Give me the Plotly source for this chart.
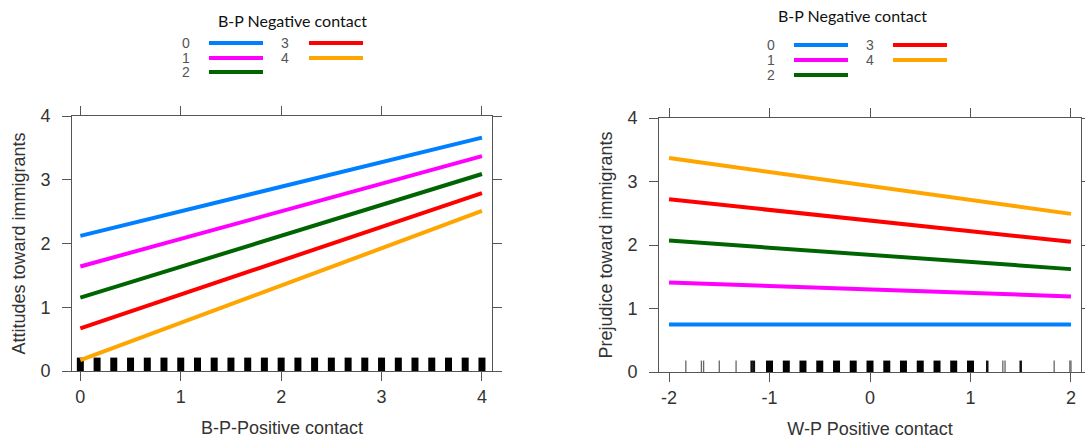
import plotly.graph_objects as go

# ---------------- data ----------------
groups = ["0", "1", "2", "3", "4"]
colors = ["#0080ff", "#ff00ff", "#006400", "#ff0000", "#ffa500"]

left_x = [0, 4]
left_y = {
    "0": [2.12, 3.66],
    "1": [1.64, 3.37],
    "2": [1.15, 3.09],
    "3": [0.67, 2.79],
    "4": [0.17, 2.51],
}
right_x = [-2, 2]
right_y = {
    "0": [0.75, 0.75],
    "1": [1.41, 1.19],
    "2": [2.07, 1.62],
    "3": [2.72, 2.05],
    "4": [3.37, 2.49],
}

left_rug = [0, 0.167, 0.333, 0.5, 0.667, 0.833, 1, 1.167, 1.333, 1.5, 1.667, 1.833,
            2, 2.167, 2.333, 2.5, 2.667, 2.833, 3, 3.167, 3.333, 3.5, 3.667, 3.833, 4]
right_rug_dense = [-1, -0.833, -0.667, -0.5, -0.333, -0.167, 0, 0.167, 0.333, 0.5,
                   0.667, 0.833, 1]
right_rug_mid = [-1.178, -1.156, 1.167, 1.5]
right_rug_sparse = [-1.833, -1.678, -1.656, -1.5, -1.333, 1.322, 1.344, 1.833, 1.989, 2.0]

left_xticks = [0, 1, 2, 3, 4]
left_xticktext = ["0", "1", "2", "3", "4"]
right_xticks = [-2, -1, 0, 1, 2]
right_xticktext = ["-2", "-1", "0", "1", "2"]
yticks = [0, 1, 2, 3, 4]

legend_title = "B-P Negative contact"
left_xtitle = "B-P-Positive contact"
left_ytitle = "Attitudes toward immigrants"
right_xtitle = "W-P Positive contact"
right_ytitle = "Prejudice toward immigrants"

W, H = 1085, 443
AX = "#555555"
TXT = "#333333"
FONT = "Liberation Sans, Arial, sans-serif"

fig = go.Figure()


def rug_trace(vals, h, width, color, xa, ya):
    xs, ys = [], []
    for v in vals:
        xs += [v, v, None]
        ys += [0, h, None]
    return go.Scatter(x=xs, y=ys, mode="lines", line=dict(color=color, width=width),
                      xaxis=xa, yaxis=ya, showlegend=False, hoverinfo="skip")


# left panel
fig.add_trace(rug_trace(left_rug, 0.21, 7, "#000000", "x", "y"))
for g, c in zip(groups, colors):
    fig.add_trace(go.Scatter(x=left_x, y=left_y[g], mode="lines",
                             line=dict(color=c, width=4), xaxis="x", yaxis="y",
                             showlegend=False, name=g))
# right panel
fig.add_trace(rug_trace(right_rug_dense, 0.18, 7, "#000000", "x2", "y2"))
fig.add_trace(rug_trace(right_rug_mid, 0.18, 2.5, "#111111", "x2", "y2"))
fig.add_trace(rug_trace(right_rug_sparse, 0.18, 1.3, "#666666", "x2", "y2"))
for g, c in zip(groups, colors):
    fig.add_trace(go.Scatter(x=right_x, y=right_y[g], mode="lines",
                             line=dict(color=c, width=4), xaxis="x2", yaxis="y2",
                             showlegend=False, name=g))


def px_x(p):
    return p / W


def px_y(p):
    return 1 - p / H


axis_common = dict(showline=True, linecolor=AX, linewidth=1, mirror="ticks",
                   ticks="outside", ticklen=9, tickcolor=AX, tickwidth=1,
                   showgrid=False, zeroline=False, automargin=False,
                   tickfont=dict(family=FONT, size=18, color=TXT))
xstyle = dict(axis_common, ticklabelstandoff=0)
ystyle = dict(axis_common, ticklabelstandoff=8)
title_font = dict(family=FONT, size=18, color=TXT)

fig.update_layout(
    template="none",
    width=W, height=H,
    margin=dict(l=0, r=0, t=0, b=0, pad=0),
    paper_bgcolor="white", plot_bgcolor="white",
    xaxis=dict(domain=[px_x(72), px_x(492)], range=[-0.083, 4.1], anchor="y",
               tickvals=left_xticks, ticktext=left_xticktext,
               title=dict(text=left_xtitle, standoff=15, font=title_font),
               **xstyle),
    yaxis=dict(domain=[px_y(371), px_y(116)], range=[0, 4], anchor="x",
               tickvals=yticks,
               title=dict(text=left_ytitle, standoff=10, font=title_font),
               **ystyle),
    xaxis2=dict(domain=[px_x(659), px_x(1081)], range=[-2.1, 2.1], anchor="y2",
                tickvals=right_xticks, ticktext=right_xticktext,
                title=dict(text=right_xtitle, standoff=15, font=title_font),
                **xstyle),
    yaxis2=dict(domain=[px_y(372), px_y(118)], range=[0, 4], anchor="x2",
                tickvals=yticks,
                title=dict(text=right_ytitle, standoff=10, font=title_font),
                **ystyle),
)

# manual legends (lattice-style key above each panel)
legend_specs = [
    dict(tx=292, ty=21, cols=[(186, 209, 263), (285, 309, 363)], rows=[43, 58, 72]),
    dict(tx=852, ty=15, cols=[(771, 794, 848), (870, 893, 947)], rows=[45, 60, 75]),
]
for spec in legend_specs:
    fig.add_annotation(x=px_x(spec["tx"]), y=px_y(spec["ty"]), xref="paper", yref="paper",
                       text=legend_title, showarrow=False, xanchor="center", yanchor="middle",
                       font=dict(family="Lato, Open Sans, sans-serif", size=16, color="#111111"))
    for i, (g, c) in enumerate(zip(groups, colors)):
        col = 0 if i < 3 else 1
        row = i if i < 3 else i - 3
        lx, x0, x1 = spec["cols"][col]
        yy = spec["rows"][row]
        fig.add_annotation(x=px_x(lx), y=px_y(yy), xref="paper", yref="paper", text=g,
                           showarrow=False, xanchor="center", yanchor="middle",
                           font=dict(family=FONT, size=14, color="#555555"))
        fig.add_shape(type="line", xref="paper", yref="paper",
                      x0=px_x(x0), x1=px_x(x1), y0=px_y(yy), y1=px_y(yy),
                      line=dict(color=c, width=4))

fig.write_html(
    "out.html",
    config={"displayModeBar": False},
    post_script="document.body.style.margin='0px';document.body.style.overflow='hidden';",
)
